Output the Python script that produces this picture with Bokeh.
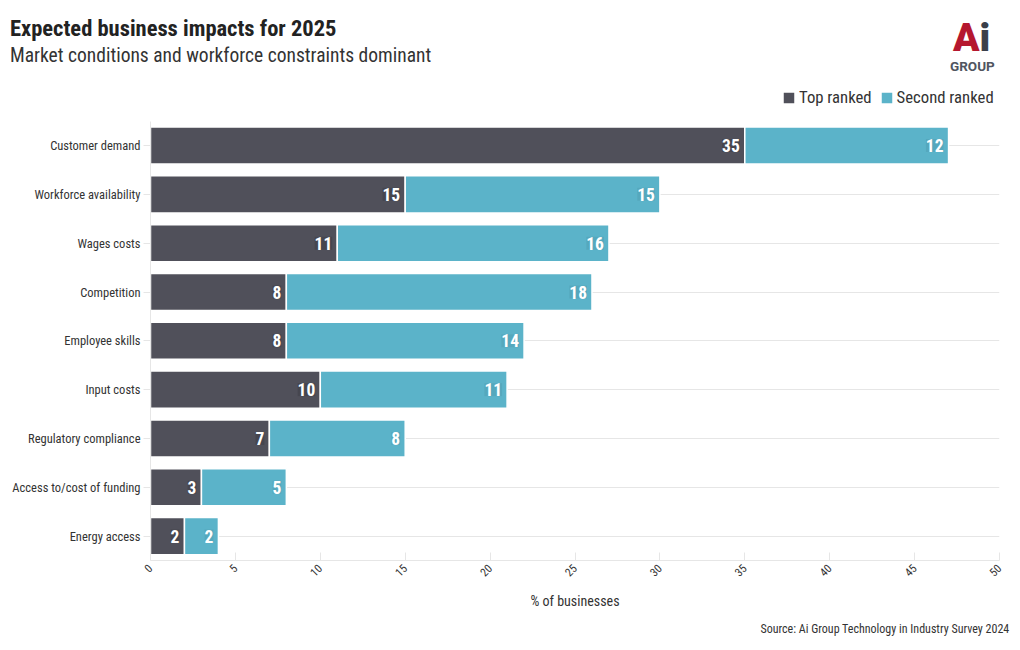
import math
from bokeh.plotting import figure
from bokeh.layouts import column
from bokeh.models import ColumnDataSource, Legend, LegendItem, Title, Div, Range1d, FixedTicker
from bokeh.core.properties import value
from bokeh.embed import file_html
from bokeh.resources import INLINE

title_text = "Expected business impacts for 2025"
subtitle_text = "Market conditions and workforce constraints dominant"
source_text = "Source: Ai Group Technology in Industry Survey 2024"
categories = ["Customer demand", "Workforce availability", "Wages costs", "Competition",
              "Employee skills", "Input costs", "Regulatory compliance",
              "Access to/cost of funding", "Energy access"]
top_ranked = [35, 15, 11, 8, 8, 10, 7, 3, 2]
second_ranked = [12, 15, 16, 18, 14, 11, 8, 5, 2]
x_ticks = [0, 5, 10, 15, 20, 25, 30, 35, 40, 45, 50]

FONT = "'Roboto Condensed', Roboto"
DARK = "#50505a"
TEAL = "#5bb3c9"

n = len(categories)
ypos = [n - 1 - i for i in range(n)]  # first category at the top

src = ColumnDataSource(dict(
    y=ypos,
    top=top_ranked,
    second=second_ranked,
    total=[a + b for a, b in zip(top_ranked, second_ranked)],
    zero=[0] * n,
    top_lbl=[str(v) for v in top_ranked],
    sec_lbl=[str(v) for v in second_ranked],
))

header_html = f"""
<div style="position:relative;width:1012px;height:80px;font-family:'Roboto Condensed',Roboto,sans-serif;">
  <div style="position:absolute;left:10px;top:15px;font-size:22.5px;font-weight:bold;color:#222222;white-space:nowrap;line-height:26px;">{title_text}</div>
  <div style="position:absolute;left:10px;top:44px;font-size:19.5px;color:#333333;white-space:nowrap;line-height:24px;">{subtitle_text}</div>
  <div style="position:absolute;left:953px;top:22px;font-family:Roboto,sans-serif;font-size:39px;font-weight:900;line-height:32px;white-space:nowrap;"><span style="color:#b5172f;">A</span><span style="color:#3a3f4a;">i</span></div>
  <div style="position:absolute;left:950px;top:60px;font-family:Roboto,sans-serif;font-size:13.5px;font-weight:bold;color:#505560;line-height:12px;white-space:nowrap;">GROUP</div>
</div>
"""
header = Div(text=header_html, width=1012, height=80, margin=0)

p = figure(width=1012, height=562, y_range=Range1d(-0.5, n + 0.23),
           x_range=(0, 50), output_backend="svg", toolbar_location=None,
           min_border_left=150, min_border_right=13, min_border_top=5, min_border_bottom=79,
           margin=0)
p.outline_line_color = None
p.background_fill_color = "white"

r1 = p.hbar(y="y", left="zero", right="top", height=0.76, source=src,
            fill_color=DARK, line_color="white", line_width=1.5)
r2 = p.hbar(y="y", left="top", right="total", height=0.76, source=src,
            fill_color=TEAL, line_color="white", line_width=1.5)

p.text(x="top", y="y", text="top_lbl", source=src, x_offset=-5,
       text_align="right", text_baseline="middle", text_color="white",
       text_font=value(FONT), text_font_style="bold", text_font_size="17.5px",
       background_fill_color="#000000", background_fill_alpha=0.12)
p.text(x="total", y="y", text="sec_lbl", source=src, x_offset=-5,
       text_align="right", text_baseline="middle", text_color="white",
       text_font=value(FONT), text_font_style="bold", text_font_size="17.5px",
       background_fill_color="#000000", background_fill_alpha=0.06)

# x axis
p.xaxis.ticker = FixedTicker(ticks=x_ticks)
p.xaxis.major_label_orientation = math.pi / 4
p.xaxis.major_tick_in = 8
p.xaxis.major_tick_out = 0
p.xaxis.minor_tick_line_color = None
p.xaxis.axis_line_color = "#e6e6e6"
p.xaxis.major_tick_line_color = "#e6e6e6"
p.xaxis.major_label_standoff = 6
p.xaxis.major_label_text_font = FONT
p.xaxis.major_label_text_font_size = "11.5px"
p.xaxis.major_label_text_color = "#333333"
p.xaxis.axis_label = "% of businesses"
p.xaxis.axis_label_text_font = FONT
p.xaxis.axis_label_text_font_size = "14px"
p.xaxis.axis_label_text_font_style = "normal"
p.xaxis.axis_label_text_color = "#333333"
p.xaxis.axis_label_standoff = 10

# y axis (categories)
p.yaxis.ticker = FixedTicker(ticks=ypos)
p.yaxis.major_label_overrides = {y: c for y, c in zip(ypos, categories)}
p.yaxis.bounds = (-0.5, n - 0.5)
p.yaxis.axis_line_color = "#e6e6e6"
p.yaxis.major_tick_line_color = "#e6e6e6"
p.yaxis.minor_tick_line_color = None
p.yaxis.major_tick_out = 7
p.yaxis.major_tick_in = 0
p.yaxis.major_label_standoff = 3
p.yaxis.major_label_text_font = FONT
p.yaxis.major_label_text_font_size = "12.5px"
p.yaxis.major_label_text_color = "#333333"

p.xgrid.grid_line_color = None
p.ygrid.grid_line_color = "#e6e6e6"

legend = Legend(items=[LegendItem(label="Top ranked", renderers=[r1]),
                       LegendItem(label="Second ranked", renderers=[r2])],
                orientation="horizontal", location=(631, 453),
                label_text_font=FONT, label_text_font_size="16.7px", label_text_color="#333333",
                glyph_width=15, glyph_height=15, label_height=20, spacing=7, label_standoff=3,
                padding=0, margin=0, border_line_color=None, background_fill_alpha=0)
p.add_layout(legend, "center")

p.add_layout(Title(text=source_text, align="right",
                   text_font=FONT, text_font_size="12px", text_font_style="normal",
                   text_color="#333333", offset=-10, standoff=14), "below")

layout = column(header, p, spacing=0)
open("out.html", "w").write(file_html(layout, INLINE))
